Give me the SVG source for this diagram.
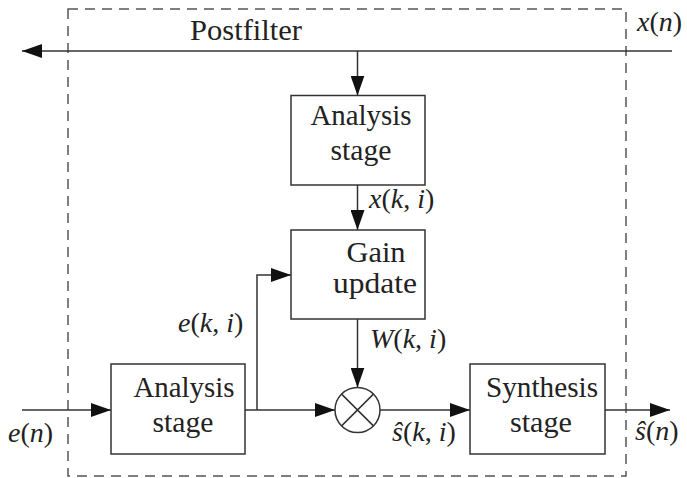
<svg xmlns="http://www.w3.org/2000/svg" width="687" height="478" viewBox="0 0 687 478">
<style>
.box{fill:#fff;stroke:#333;stroke-width:1.5}
.wire{fill:none;stroke:#333;stroke-width:1.5}
.lbl{font-size:29px;fill:#222;text-anchor:middle}
.math{font-size:28px;fill:#222}
.it{font-style:italic}
</style>
<defs>
<marker id="ah" markerUnits="userSpaceOnUse" markerWidth="20" markerHeight="14" refX="20" refY="7" orient="auto">
<path d="M0,0 L20,7 L0,14 z" fill="#111"/>
</marker>
</defs>
<rect id="postfilter-frame" x="68" y="9" width="558" height="467" fill="none" stroke="#555" stroke-width="1.5" stroke-dasharray="10,7"/>
<g font-family="'Liberation Serif', 'DejaVu Serif', 'Times New Roman', serif">
<text class="lbl" x="246" y="40" textLength="112" lengthAdjust="spacingAndGlyphs">Postfilter</text>
</g>
<g id="connectors">
<path class="wire" d="M672,51 H22" marker-end="url(#ah)"/>
<path class="wire" d="M357.5,51 V95.5" marker-end="url(#ah)"/>
<path class="wire" d="M357.5,185 V230" marker-end="url(#ah)"/>
<path class="wire" d="M357.5,319 V387.5" marker-end="url(#ah)"/>
<path class="wire" d="M22,410 H111" marker-end="url(#ah)"/>
<path class="wire" d="M245,410 H335" marker-end="url(#ah)"/>
<path class="wire" d="M257,410 V275 H291" marker-end="url(#ah)"/>
<path class="wire" d="M380,410 H470" marker-end="url(#ah)"/>
<path class="wire" d="M605,410 H670" marker-end="url(#ah)"/>
</g>
<g id="analysis-top" font-family="'Liberation Serif', 'DejaVu Serif', 'Times New Roman', serif">
<rect class="box" x="291" y="95.5" width="134" height="89.5"/>
<text class="lbl" x="361" y="125" textLength="101" lengthAdjust="spacingAndGlyphs">Analysis</text>
<text class="lbl" x="361" y="160" textLength="61" lengthAdjust="spacingAndGlyphs">stage</text>
</g>
<g id="gain-update" font-family="'Liberation Serif', 'DejaVu Serif', 'Times New Roman', serif">
<rect class="box" x="291" y="230" width="134" height="89"/>
<text class="lbl" x="376" y="262" textLength="59" lengthAdjust="spacingAndGlyphs">Gain</text>
<text class="lbl" x="375" y="293" textLength="84" lengthAdjust="spacingAndGlyphs">update</text>
</g>
<g id="analysis-bottom" font-family="'Liberation Serif', 'DejaVu Serif', 'Times New Roman', serif">
<rect class="box" x="111" y="364" width="134" height="90"/>
<text class="lbl" x="184" y="397" textLength="101" lengthAdjust="spacingAndGlyphs">Analysis</text>
<text class="lbl" x="183" y="432" textLength="61" lengthAdjust="spacingAndGlyphs">stage</text>
</g>
<g id="multiplier">
<circle cx="357.5" cy="410" r="22.5" fill="#fff" stroke="#333" stroke-width="1.5"/>
<path class="wire" d="M341.6,394.1 L373.4,425.9 M373.4,394.1 L341.6,425.9" stroke-width="1.2"/>
</g>
<g id="synthesis" font-family="'Liberation Serif', 'DejaVu Serif', 'Times New Roman', serif">
<rect class="box" x="470" y="364" width="135" height="90"/>
<text class="lbl" x="542" y="397" textLength="112" lengthAdjust="spacingAndGlyphs">Synthesis</text>
<text class="lbl" x="541" y="432" textLength="62" lengthAdjust="spacingAndGlyphs">stage</text>
</g>
<g id="labels" font-family="'Liberation Serif', 'DejaVu Serif', 'Times New Roman', serif">
<text class="math" x="637" y="31"><tspan class="it">x</tspan>(<tspan class="it">n</tspan>)</text>
<text class="math" x="369" y="208"><tspan class="it">x</tspan>(<tspan class="it">k</tspan>, <tspan class="it">i</tspan>)</text>
<text class="math" x="178" y="332"><tspan class="it">e</tspan>(<tspan class="it">k</tspan>, <tspan class="it">i</tspan>)</text>
<text class="math" x="370" y="348"><tspan class="it">W</tspan>(<tspan class="it">k</tspan>, <tspan class="it">i</tspan>)</text>
<text class="math" x="392" y="441"><tspan class="it">ŝ</tspan>(<tspan class="it">k</tspan>, <tspan class="it">i</tspan>)</text>
<text class="math" x="8" y="442"><tspan class="it">e</tspan>(<tspan class="it">n</tspan>)</text>
<text class="math" x="635" y="440"><tspan class="it">ŝ</tspan>(<tspan class="it">n</tspan>)</text>
</g>
</svg>
